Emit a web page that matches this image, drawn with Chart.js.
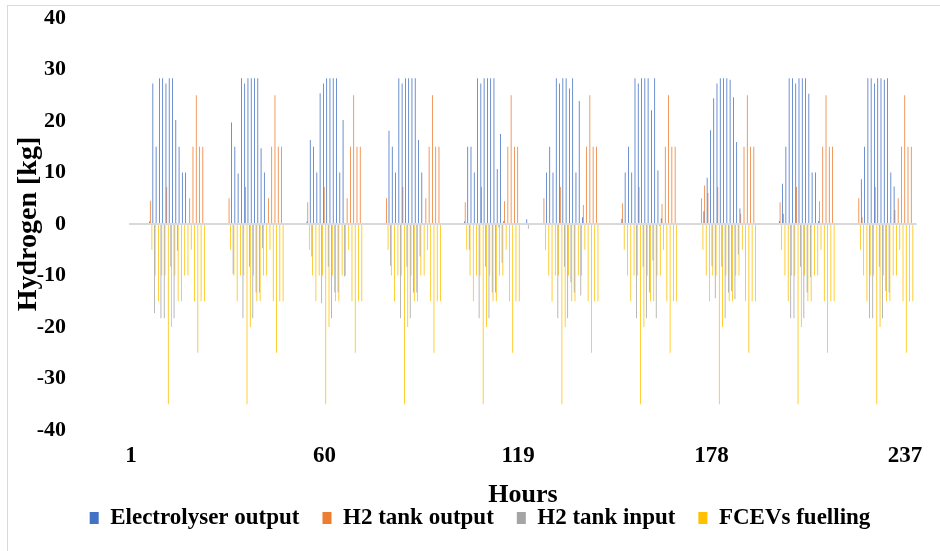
<!DOCTYPE html>
<html>
<head>
<meta charset="utf-8">
<title>Hydrogen balance</title>
<script src="https://cdn.jsdelivr.net/npm/chart.js@4.4.1/dist/chart.umd.min.js"></script>
<style>
  html, body { margin: 0; padding: 0; background: #fff; }
  #wrap { position: relative; width: 940px; height: 551px; }
  #frame {
    position: absolute; left: 7px; top: 5px; right: 0; bottom: 0;
    border-left: 1px solid #d9d9d9; border-top: 1px solid #d9d9d9;
    pointer-events: none;
  }
</style>
</head>
<body>
<div id="wrap">
  <canvas id="h2Chart" width="940" height="551"></canvas>
  <div id="frame"></div>
</div>
<script>
// hours 1..240 (10 days x 24 h)
const hours = Array.from({ length: 240 }, (_, i) => String(i + 1));
const tickLabels = ['1', '60', '119', '178', '237'];
const seriesNames = ['Electrolyser output', 'H2 tank output', 'H2 tank input', 'FCEVs fuelling'];

// one row per day, 24 hourly values [kg]
const electrolyserOutput = [
  0, 0, 0, 0, 0, 0, 0.5, 27.3, 15, 28.3, 28.3, 27.3, 28.3, 28.3, 20.2, 15, 10, 10, 0, 0, 0, 0, 0, 0,
  0, 0, 0, 0, 0, 0, 0, 19.7, 15, 9.8, 28.3, 27.3, 28.3, 28.3, 28.3, 28.3, 14.7, 10, 0, 0, 0, 0, 0, 0,
  0, 0, 0, 0, 0, 0, 0.5, 16.3, 15, 10, 25.4, 27.3, 28.3, 28.3, 28.3, 28.3, 10, 20.2, 0, 0, 0, 0, 0, 0,
  0, 0, 0, 0, 0, 0, 0, 18.1, 15, 10, 28.3, 27.3, 28.3, 28.3, 28.3, 28.3, 16.3, 10, 0, 0, 0, 0, 0, 0,
  0, 0, 0, 0, 0, 0, 0.5, 15, 15, 10, 28.3, 27.3, 28.3, 28.3, 28.3, 28.3, 10.7, 17.5, 0.6, 0, 0, 0, 0, 0,
  0, 0.9, 0, 0, 0, 0, 0, 10, 15, 10, 28.3, 27.3, 28.3, 28.3, 26.3, 28.3, 10, 23.9, 1.3, 0, 0, 0, 0, 0,
  0, 0, 0, 0, 0, 0, 1, 10, 15, 10, 28.3, 27.3, 28.3, 28.3, 28.3, 22.1, 28.3, 10.4, 1.1, 0, 0, 0, 0, 0,
  0, 0, 0, 0, 0, 0, 0, 2.5, 9, 18.2, 24.4, 27.3, 28.3, 28.3, 28.3, 28, 24.6, 15.9, 3, 0, 0, 0, 0, 0,
  0, 0, 0, 0, 0, 0, 0.6, 7.8, 15, 28.3, 28.3, 27.3, 28.3, 28.3, 28.3, 25.3, 10, 10, 0.6, 0, 0, 0, 0, 0,
  0, 0, 0, 0, 0, 0, 0, 8.7, 15, 28.3, 28.3, 27.3, 28.3, 28.3, 28, 28.3, 10, 7.3, 0, 0, 0, 0, 0, 0
];

const tankOutput = [
  0, 0, 0, 0, 0, 0, 4.5, 0, 0, 0, 0, 7.2, 0, 0, 0, 0, 0, 0, 5, 15, 25, 15, 15, 0,
  0, 0, 0, 0, 0, 0, 5, 0, 0, 0, 0, 7.2, 0, 0, 0, 0, 0, 0, 5, 15, 25, 15, 15, 0,
  0, 0, 0, 0, 0, 0, 4.2, 0, 0, 0, 0, 7.2, 0, 0, 0, 0, 0, 0, 5, 15, 25, 15, 15, 0,
  0, 0, 0, 0, 0, 0, 5, 0, 0, 0, 0, 7.2, 0, 0, 0, 0, 0, 0, 5, 15, 25, 15, 15, 0,
  0, 0, 0, 0, 0, 0, 4.2, 0, 0, 0, 0, 7.2, 0, 0, 0, 0, 0, 0, 4.4, 15, 25, 15, 15, 0,
  0, 0, 0, 0, 0, 0, 5, 0, 0, 0, 0, 7.2, 0, 0, 0, 0, 0, 0, 3.7, 15, 25, 15, 15, 0,
  0, 0, 0, 0, 0, 0, 4, 0, 0, 0, 0, 7.2, 0, 0, 0, 0, 0, 0, 3.9, 15, 25, 15, 15, 0,
  0, 0, 0, 0, 0, 0, 5, 7.5, 6, 0, 0, 7.2, 0, 0, 0, 0, 0, 0, 2, 15, 25, 15, 15, 0,
  0, 0, 0, 0, 0, 0, 4.2, 2, 0, 0, 0, 7.2, 0, 0, 0, 0, 0, 0, 4.4, 15, 25, 15, 15, 0,
  0, 0, 0, 0, 0, 0, 5, 1.3, 0, 0, 0, 7.2, 0, 0, 0, 0, 0, 2.7, 5, 15, 25, 15, 15, 0
];

const tankInput = [
  0, 0, 0, 0, 0, 0, 0, -17.3, 0, -18.3, -18.3, 0, -8.3, -18.3, -5.2, 0, 0, 0, 0, 0, 0, 0, 0, 0,
  0, 0, 0, 0, 0, 0, 0, -9.7, 0, 0, -18.3, 0, -8.3, -18.3, -13.3, -13.3, -4.7, 0, 0, 0, 0, 0, 0, 0,
  0, 0, 0, 0, 0, 0, 0, -6.3, 0, 0, -15.4, 0, -8.3, -18.3, -13.3, -13.3, 0, -10.2, 0, 0, 0, 0, 0, 0,
  0, 0, 0, 0, 0, 0, 0, -8.1, 0, 0, -18.3, 0, -8.3, -18.3, -13.3, -13.3, -6.3, 0, 0, 0, 0, 0, 0, 0,
  0, 0, 0, 0, 0, 0, 0, -5, 0, 0, -18.3, 0, -8.3, -18.3, -13.3, -13.3, -0.7, -7.5, 0, 0, 0, 0, 0, 0,
  0, -0.9, 0, 0, 0, 0, 0, 0, 0, 0, -18.3, 0, -8.3, -18.3, -11.3, -13.3, 0, -13.9, 0, 0, 0, 0, 0, 0,
  0, 0, 0, 0, 0, 0, 0, 0, 0, 0, -18.3, 0, -8.3, -18.3, -13.3, -7.1, -18.3, -0.4, 0, 0, 0, 0, 0, 0,
  0, 0, 0, 0, 0, 0, 0, 0, 0, -8.2, -14.4, 0, -8.3, -18.3, -13.3, -13, -14.6, -5.9, 0, 0, 0, 0, 0, 0,
  0, 0, 0, 0, 0, 0, 0, 0, 0, -18.3, -18.3, 0, -8.3, -18.3, -13.3, -10.3, 0, 0, 0, 0, 0, 0, 0, 0,
  0, 0, 0, 0, 0, 0, 0, 0, 0, -18.3, -18.3, 0, -8.3, -18.3, -13, -13.3, 0, 0, 0, 0, 0, 0, 0, 0
];

const fcevFuelling = [
  0, 0, 0, 0, 0, 0, -5, -10, -15, -10, -10, -35, -20, -10, -15, -15, -10, -10, -5, -15, -25, -15, -15, 0,
  0, 0, 0, 0, 0, 0, -5, -10, -15, -10, -10, -35, -20, -10, -15, -15, -10, -10, -5, -15, -25, -15, -15, 0,
  0, 0, 0, 0, 0, 0, -5, -10, -15, -10, -10, -35, -20, -10, -15, -15, -10, -10, -5, -15, -25, -15, -15, 0,
  0, 0, 0, 0, 0, 0, -5, -10, -15, -10, -10, -35, -20, -10, -15, -15, -10, -10, -5, -15, -25, -15, -15, 0,
  0, 0, 0, 0, 0, 0, -5, -10, -15, -10, -10, -35, -20, -10, -15, -15, -10, -10, -5, -15, -25, -15, -15, 0,
  0, 0, 0, 0, 0, 0, -5, -10, -15, -10, -10, -35, -20, -10, -15, -15, -10, -10, -5, -15, -25, -15, -15, 0,
  0, 0, 0, 0, 0, 0, -5, -10, -15, -10, -10, -35, -20, -10, -15, -15, -10, -10, -5, -15, -25, -15, -15, 0,
  0, 0, 0, 0, 0, 0, -5, -10, -15, -10, -10, -35, -20, -10, -15, -15, -10, -10, -5, -15, -25, -15, -15, 0,
  0, 0, 0, 0, 0, 0, -5, -10, -15, -10, -10, -35, -20, -10, -15, -15, -10, -10, -5, -15, -25, -15, -15, 0,
  0, 0, 0, 0, 0, 0, -5, -10, -15, -10, -10, -35, -20, -10, -15, -15, -10, -10, -5, -15, -25, -15, -15, 0
];

(function () {
  'use strict';

  const colors = ['#4472C4', '#ED7D31', '#A5A5A5', '#FFC000'];
  const serif = 'Liberation Serif, "Times New Roman", serif';
  const values = [electrolyserOutput, tankOutput, tankInput, fcevFuelling];

  const datasets = seriesNames.map((name, i) => ({
    label: name,
    data: values[i],
    backgroundColor: colors[i],
    borderWidth: 0,
    categoryPercentage: 0.95,
    barPercentage: 1
  }));

  const ctx = document.getElementById('h2Chart').getContext('2d');
  new Chart(ctx, {
    type: 'bar',
    data: { labels: hours, datasets },
    options: {
      responsive: false,
      animation: false,
      devicePixelRatio: 1,
      layout: { padding: { top: 18, left: 20, right: 0, bottom: 11.5 } },
      plugins: {
        tooltip: { enabled: false },
        legend: {
          position: 'bottom',
          labels: {
            color: '#000',
            boxWidth: 9,
            boxHeight: 12,
            padding: 23,
            font: { family: serif, size: 23, weight: 'bold' }
          }
        }
      },
      scales: {
        x: {
          grid: { display: false, drawTicks: false },
          border: { display: false },
          ticks: {
            autoSkip: false,
            maxRotation: 0,
            padding: 12,
            color: '#000',
            font: { family: serif, size: 23, weight: 'bold' },
            callback: function (val) {
              const lbl = this.getLabelForValue(val);
              return tickLabels.includes(lbl) ? lbl : '';
            }
          },
          title: {
            display: true,
            text: 'Hours',
            color: '#000',
            font: { family: serif, size: 26, weight: 'bold' },
            padding: { top: 0, bottom: -27.1 }
          },
          afterFit: (s) => { s.height = 53.5; s.paddingRight = 23.4; }
        },
        y: {
          min: -40,
          max: 40,
          border: { display: false },
          grid: {
            drawTicks: false,
            color: '#d9d9d9',
            lineWidth: (c) => (c.tick && c.tick.value === 0 ? 2 : 0)
          },
          ticks: {
            stepSize: 10,
            padding: 63.4,
            color: '#000',
            font: { family: serif, size: 22, weight: 'bold' }
          },
          title: {
            display: true,
            text: 'Hydrogen [kg]',
            color: '#000',
            font: { family: serif, size: 28, weight: 'bold' },
            padding: { top: -7.8, bottom: 0 }
          },
          // tick padding is only meant horizontally, keep top/bottom tight
          afterFit: (s) => { s.width = 109.4; s.paddingTop = 12; s.paddingBottom = 12; }
        }
      }
    }
  });
})();
</script>
</body>
</html>
